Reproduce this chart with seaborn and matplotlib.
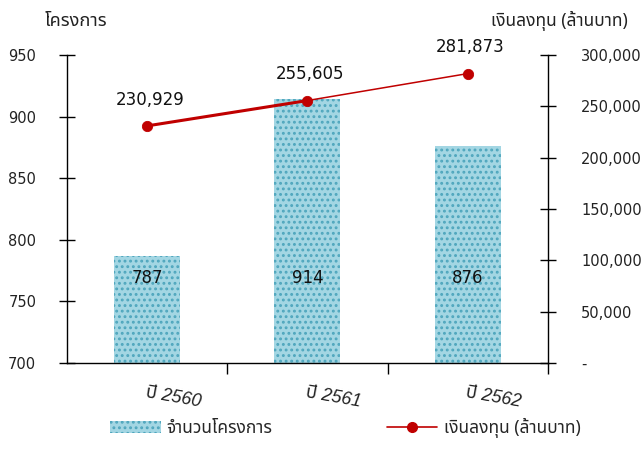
import matplotlib
matplotlib.use("Agg")
import matplotlib.pyplot as plt
import matplotlib.font_manager as fm
from matplotlib.ft2font import FT2Font
from matplotlib.patches import Patch
from matplotlib.lines import Line2D
import matplotlib.ticker as mticker
import seaborn as sns
import pandas as pd

# ---- data ----
years = ["ปี 2560", "ปี 2561", "ปี 2562"]
projects = [787, 914, 876]
investment = [230929, 255605, 281873]
left_ticks = [700, 750, 800, 850, 900, 950]
right_ticks = [0, 50000, 100000, 150000, 200000, 250000, 300000]
left_title = "โครงการ"
right_title = "เงินลงทุน (ล้านบาท)"
bar_legend = "จำนวนโครงการ"
line_legend = "เงินลงทุน (ล้านบาท)"

sns.set_theme(style="white")

# find a font with Thai glyphs
thai_font = None
prefs = ["Tahoma", "Noto Sans Thai", "Loma", "Garuda", "Norasi", "Waree", "Kinnari", "Sarabun"]
cands = []
for f in fm.fontManager.ttflist:
    try:
        cm = FT2Font(f.fname).get_charmap()
        if 0x0E01 in cm and 0x0E49 in cm:
            cands.append(f.name)
    except Exception:
        pass
for p in prefs:
    if p in cands:
        thai_font = p
        break
if thai_font is None and cands:
    thai_font = cands[0]
thai = [thai_font] if thai_font else []
plt.rcParams["font.family"] = thai + ["DejaVu Sans"]
plt.rcParams["hatch.linewidth"] = 1.3

BAR_FACE = "#A3D6E3"
BAR_HATCH = "#4FA6BD"
RED = "#C00000"
TXT = "#222222"

fig = plt.figure(figsize=(6.43, 4.66), dpi=100)
ax = fig.add_axes([0.104, 0.221, 0.748, 0.661])

df = pd.DataFrame({"year": years, "projects": projects})
sns.barplot(data=df, x="year", y="projects", ax=ax, color=BAR_FACE,
            width=0.41, edgecolor=BAR_HATCH, linewidth=0, saturation=1)
for p in ax.patches:
    p.set_hatch("...")
    p.set_edgecolor(BAR_HATCH)
    p.set_linewidth(0)

ax.set_ylim(700, 950)
ax.set_xlim(-0.5, 2.5)
ax.set_yticks(left_ticks)
ax.set_xlabel("")
ax.set_ylabel("")
for i, v in enumerate(projects):
    ax.text(i, 769, f"{v}", ha="center", va="center", fontsize=12, color="#111111",
            family=["DejaVu Sans"])

ax2 = ax.twinx()
ax2.plot(years[:2], investment[:2], color=RED, lw=2.2, zorder=3)
ax2.plot(years[1:], investment[1:], color=RED, lw=1.1, zorder=3)
sns.scatterplot(x=years, y=investment, ax=ax2, color=RED, s=55, edgecolor=RED, zorder=4)
ax2.set_ylim(0, 300000)
ax2.set_yticks(right_ticks)
ax2.yaxis.set_major_formatter(mticker.FuncFormatter(lambda v, _: "-" if v == 0 else f"{int(v):,}"))
for i, v in enumerate(investment):
    ax2.annotate(f"{v:,}", (i, v), xytext=(2, 19), textcoords="offset points",
                 ha="center", va="center", fontsize=12, color="#111111", family=["DejaVu Sans"])

for a in (ax, ax2):
    for s in a.spines.values():
        s.set_visible(False)
ax.spines["left"].set_visible(True)
ax.spines["bottom"].set_visible(True)
ax2.spines["right"].set_visible(True)
for s in (ax.spines["left"], ax.spines["bottom"], ax2.spines["right"]):
    s.set_color("black")
    s.set_linewidth(1)

ax.tick_params(axis="y", direction="inout", length=12, width=1, colors="black",
               labelsize=10.5, labelcolor=TXT, pad=16, left=True)
ax2.tick_params(axis="y", direction="inout", length=12, width=1, colors="black",
                labelsize=10.5, labelcolor=TXT, pad=18, right=True)
for lab in ax.get_yticklabels() + ax2.get_yticklabels():
    lab.set_family(["DejaVu Sans"])
ax.set_xticks([0.5, 1.5, 2.5], minor=True)
ax.tick_params(axis="x", which="minor", direction="out", length=8, width=1, color="black", bottom=True)
ax.tick_params(axis="x", which="major", length=0, pad=15)
ax.set_xticks(range(len(years)))
ax.set_xticklabels(years, rotation=-10, fontsize=13, style="italic", color=TXT,
                   ha="left", rotation_mode="anchor", family=["Liberation Sans"] + thai)

fig.text(0.07, 0.955, left_title, fontsize=13, ha="left", va="center", color=TXT)
fig.text(0.977, 0.955, right_title, fontsize=12.5, ha="right", va="center", color=TXT)

handles = [Patch(facecolor=BAR_FACE, edgecolor=BAR_HATCH, hatch="...", linewidth=0),
           Line2D([0], [0], color=RED, lw=1.2, marker="o", markersize=7)]
fig.legend(handles, [bar_legend, line_legend], loc="center", bbox_to_anchor=(0.537, 0.082),
           ncol=2, frameon=False, fontsize=12.5, columnspacing=6.6, handlelength=2.9,
           handletextpad=0.35)

fig.savefig("out.png", dpi=100)
